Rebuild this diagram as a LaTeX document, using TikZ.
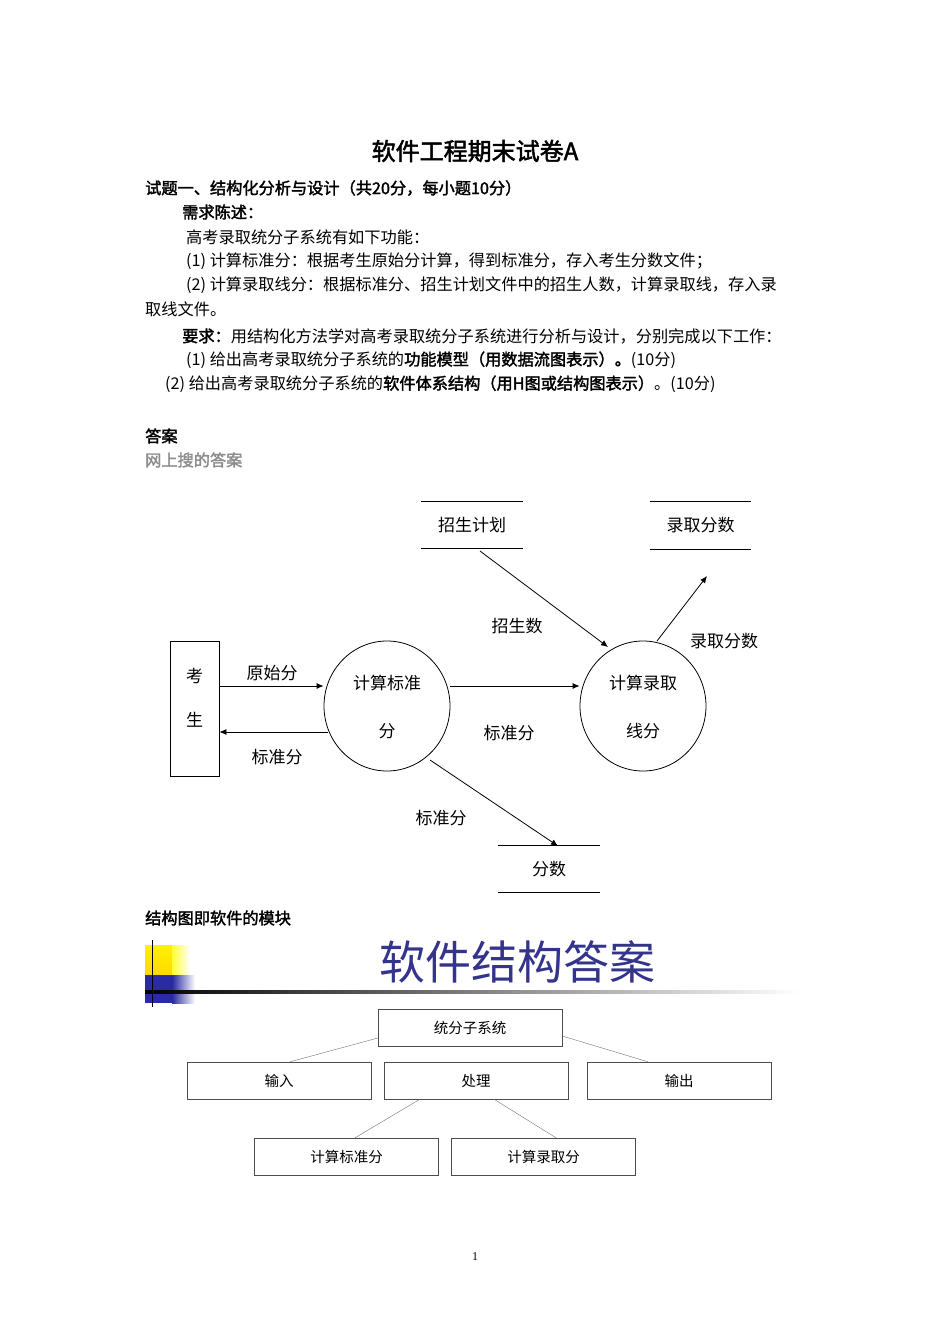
\documentclass[tikz,border=0pt]{standalone}
\usepackage{fontspec}
\setmainfont{Liberation Serif}
\newfontfamily\cjk{Noto Sans CJK SC}
\newfontfamily\cjkb[FakeBold=2]{Noto Sans CJK SC}
\usetikzlibrary{arrows.meta,shapes.geometric}
\definecolor{ban}{RGB}{52,52,140}
\begin{document}
\begin{tikzpicture}[x=1pt,y=-1pt,
 txt/.style={anchor=west,inner sep=0pt,font=\fontsize{16.2}{18}\selectfont\cjk},
 btxt/.style={anchor=west,inner sep=0pt,font=\fontsize{16.2}{18}\selectfont\cjkb},
 lbl/.style={inner sep=1pt,font=\fontsize{17}{20}\selectfont\cjk},
 proc/.style={draw,ellipse,minimum width=126pt,minimum height=130pt,thick},
 flow/.style={thick,-{Latex[length=7pt,width=6pt]}},
 sbox/.style={draw=black!70,minimum width=184pt,minimum height=37pt,font=\fontsize{14.5}{16}\selectfont\cjk},
 gl/.style={draw=black!55}]
\useasboundingbox[fill=white] (0,0) rectangle (950,1344);
% header text
\node[font=\fontsize{24}{28}\selectfont\cjkb] (title) at (475,151) {软件工程期末试卷A};
\node[btxt] (t1) at (145,188) {试题一、结构化分析与设计（共20分，每小题10分）};
\node[btxt] (t2) at (182,212) {需求陈述：};
\node[txt] (t3) at (186,237) {高考录取统分子系统有如下功能：};
\node[txt] (t4) at (186,261) {(1) 计算标准分：根据考生原始分计算，得到标准分，存入考生分数文件；};
\node[txt] (t5) at (186,285) {(2) 计算录取线分：根据标准分、招生计划文件中的招生人数，计算录取线，存入录};
\node[txt] (t6) at (145,309) {取线文件。};
\node[txt] (t7) at (182,336) {{\cjkb 要求：}用结构化方法学对高考录取统分子系统进行分析与设计，分别完成以下工作：};
\node[txt] (t8) at (186,360) {(1) 给出高考录取统分子系统的{\cjkb 功能模型（用数据流图表示）。}(10分)};
\node[txt] (t9) at (165,384) {(2) 给出高考录取统分子系统的{\cjkb 软件体系结构（用H图或结构图表示）}。(10分)};
\node[btxt] (t10) at (145,436) {答案};
\node[btxt,text=black!45] (t11) at (145,460) {网上搜的答案};
% DFD
\node[draw,thick,minimum width=49pt,minimum height=135pt] (ks) at (194.5,708.5) {};
\node[lbl] at (194.5,676) {考};
\node[lbl] at (194.5,720) {生};
\node[proc] (p1) at (387,706) {};
\node[lbl] at (387,683) {计算标准};
\node[lbl] at (387,731) {分};
\node[proc] (p2) at (643,706) {};
\node[lbl] at (643,683) {计算录取};
\node[lbl] at (643,731) {线分};
\node[minimum width=102pt,minimum height=46pt,lbl] (s1) at (472,525) {招生计划};
\draw[thick] (s1.north west)--(s1.north east) (s1.south west)--(s1.south east);
\node[minimum width=101pt,minimum height=47pt,lbl] (s2) at (700.5,525.5) {录取分数};
\draw[thick] (s2.north west)--(s2.north east) (s2.south west)--(s2.south east);
\node[minimum width=102pt,minimum height=46pt,lbl] (s3) at (549,869) {分数};
\draw[thick] (s3.north west)--(s3.north east) (s3.south west)--(s3.south east);
\coordinate (c1) at (707,576);
\draw[flow] (ks.east|-0,686) -- (p1.west|-0,686);
\draw[flow] (p1.west|-0,732) ++(4,0) -- (ks.east|-0,732);
\draw[flow] (p1.east|-0,686) -- (p2.west|-0,686);
\draw[flow] (480,551) -- (608,647);
\draw[flow] (657,641) -- (c1);
\draw[flow] (430,760) -- (558,846);
\node[lbl] at (272,673) {原始分};
\node[lbl] at (277,757) {标准分};
\node[lbl] at (517,626) {招生数};
\node[lbl] at (724,641) {录取分数};
\node[lbl] at (509,733) {标准分};
\node[lbl] at (441,818) {标准分};
\node[btxt] (t12) at (145,918) {结构图即软件的模块};
% banner
\fill[top color=yellow!90!orange,bottom color=yellow!70!orange] (145,945) rectangle (172,975);
\shade[left color=yellow!80,right color=white] (172,945) rectangle (190,975);
\fill[ban!80!blue] (145,975) rectangle (172,1003);
\shade[left color=ban!80!blue,right color=white] (172,975) rectangle (195,1003);
\shade[left color=black,right color=white] (145,990) rectangle (800,993);
\draw[thick] (152,940)--(152,1007);
\node[font=\fontsize{46}{50}\selectfont\cjk,text=ban] (bt) at (517,962) {软件结构答案};
% structure chart
\node[sbox] (r) at (470,1027.5) {统分子系统};
\node[sbox] (a) at (279,1080.5) {输入};
\node[sbox] (b) at (476,1080.5) {处理};
\node[sbox] (c) at (679,1080.5) {输出};
\node[sbox] (d) at (346.5,1156.5) {计算标准分};
\node[sbox] (e) at (543.5,1156.5) {计算录取分};
\draw[gl] (r.west|-0,1038) -- (a.north-|290,0);
\draw[gl] (r.east|-0,1036) -- (c.north-|648,0);
\draw[gl] (b.south-|420,0) -- (d.north-|355,0);
\draw[gl] (b.south-|494,0) -- (e.north-|556,0);
\node[font=\fontsize{12}{14}\selectfont] (pg) at (475,1257) {1};
\end{tikzpicture}
\end{document}
